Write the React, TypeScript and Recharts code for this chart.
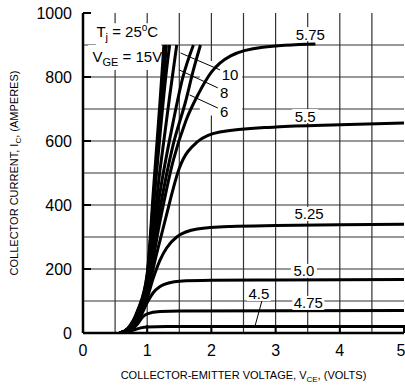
import React from 'react';
import {
  LineChart,
  Line,
  XAxis,
  YAxis,
  CartesianGrid,
  ReferenceArea,
  ReferenceDot,
  ReferenceLine,
} from 'recharts';

const FONT = '"Liberation Sans", Arial, Helvetica, sans-serif';

// [V_CE (volts), I_C (amperes)], per gate voltage
const vge20 = [[0.57, 0], [0.7, 15], [0.85, 70], [1.0, 185], [1.1, 455], [1.2, 725], [1.26, 900]];
const vge15 = [[0.57, 0], [0.7, 14], [0.85, 67], [1.0, 180], [1.1, 425], [1.2, 670], [1.3, 900]];
const vge12 = [[0.57, 0], [0.7, 13], [0.85, 63], [1.0, 174], [1.1, 400], [1.2, 620], [1.3, 820], [1.35, 900]];
const vge10 = [[0.57, 0], [0.7, 12], [0.85, 58], [1.0, 166], [1.2, 510], [1.35, 740], [1.46, 900]];
const vge8 = [[0.57, 0], [0.7, 11], [0.85, 54], [1.0, 155], [1.2, 440], [1.4, 655], [1.55, 795], [1.72, 900]];
const vge6 = [[0.57, 0], [0.7, 10], [0.85, 50], [1.0, 145], [1.2, 390], [1.4, 585], [1.6, 725], [1.72, 822], [1.83, 900]];
const vge575 = [[0.57, 0], [0.7, 9], [0.85, 45], [1.0, 135], [1.2, 350], [1.4, 535], [1.6, 662], [1.8, 748], [2.0, 815], [2.3, 866], [2.8, 893], [3.62, 903]];
const vge55 = [[0.57, 0], [0.7, 8], [0.85, 42], [1.0, 125], [1.15, 250], [1.28, 353], [1.5, 515], [1.78, 597], [2.13, 628], [3.0, 644], [4.0, 651], [5.0, 656]];
const vge525 = [[0.57, 0], [0.7, 7], [0.85, 38], [1.0, 110], [1.1, 175], [1.2, 228], [1.3, 265], [1.46, 300], [1.78, 325], [2.3, 333], [3.0, 336], [4.0, 338], [5.0, 340]];
const vge50 = [[0.57, 0], [0.7, 6], [0.85, 33], [1.0, 95], [1.09, 125], [1.2, 145], [1.35, 157], [1.5, 162], [2.0, 165], [3.0, 166], [5.0, 167]];
const vge475 = [[0.57, 0], [0.7, 5], [0.85, 28], [0.93, 50], [1.0, 60], [1.2, 67], [1.5, 69], [5.0, 70]];
const vge45 = [[0.57, 0], [0.7, 4], [0.8, 10], [0.9, 16], [1.0, 19], [1.3, 20], [5.0, 20]];

const curves = [vge20, vge15, vge12, vge10, vge8, vge6, vge575, vge55, vge525, vge50, vge475, vge45];

const xTicks = [0, 1, 2, 3, 4, 5];
const yTicks = [0, 200, 400, 600, 800, 1000];
const xGrid = [0.5, 1, 1.5, 2, 2.5, 3, 3.5, 4, 4.5];
const yGrid = [100, 200, 300, 400, 500, 600, 700, 800, 900];

// curve labels: text, V_CE, I_C of the label centre
const labelText = ['5.75', '5.5', '5.25', '5.0', '4.75', '4.5', '10', '8', '6'];
const labelV = [3.54, 3.46, 3.52, 3.44, 3.51, 2.74, 2.29, 2.2, 2.2];
const labelI = [934, 678, 372, 194, 94, 122, 809, 753, 691];
const labelW = [32, 26, 32, 26, 32, 24, 20, 12, 12];

// leader lines from label to curve
const leaders = [
  [[1.52, 875], [2.17, 819]],
  [[1.5, 822], [2.1, 766]],
  [[1.66, 744], [2.1, 703]],
  [[2.79, 103], [2.68, 22]],
];

const rows = (pts: number[][]) => pts.map(([v, i]) => ({ v, i }));

const CurveLabel = (props: any) => {
  const { cx, cy, text, w } = props;
  return (
    <g>
      <rect x={cx - w / 2} y={cy - 7} width={w} height={14} fill="#fff" />
      <text x={cx} y={cy + 5.5} textAnchor="middle" fontSize={15} fontFamily={FONT} fill="#000">
        {text}
      </text>
    </g>
  );
};

const TjLabel = (props: any) => (
  <text x={props.cx} y={props.cy} textAnchor="middle" fontSize={15} fontFamily={FONT} fill="#000">
    T<tspan dy={4} fontSize={11}>j</tspan>
    <tspan dy={-4}> = 25</tspan>
    <tspan dy={-6} fontSize={10}>o</tspan>
    <tspan dy={6}>C</tspan>
  </text>
);

const VgeLabel = (props: any) => (
  <text x={props.cx} y={props.cy} textAnchor="middle" fontSize={15} fontFamily={FONT} fill="#000">
    V<tspan dy={4} fontSize={11}>GE</tspan>
    <tspan dy={-4}> = 15V</tspan>
  </text>
);

const YTitle = (props: any) => {
  const { x, y, height } = props.viewBox;
  const cx = x + 14;
  const cy = y + height / 2;
  return (
    <text
      x={cx}
      y={cy + 4}
      transform={`rotate(-90, ${cx}, ${cy})`}
      textAnchor="middle"
      fontSize={11}
      fontFamily={FONT}
      fill="#000"
    >
      COLLECTOR CURRENT, I<tspan dy={3} fontSize={8}>C</tspan>
      <tspan dy={-3}>, (AMPERES)</tspan>
    </text>
  );
};

const XTitle = (props: any) => {
  const { x, y, width } = props.viewBox;
  return (
    <text x={x + width / 2} y={y + 46} textAnchor="middle" fontSize={11} fontFamily={FONT} fill="#000">
      COLLECTOR-EMITTER VOLTAGE, V<tspan dy={3} fontSize={8}>CE</tspan>
      <tspan dy={-3}>, (VOLTS)</tspan>
    </text>
  );
};

const axisStroke = { stroke: '#000', strokeWidth: 2.5 };
const tickStroke = { stroke: '#000', strokeWidth: 2 };
const tickFont = { fill: '#000', fontSize: 16, fontFamily: FONT };

export default function App() {
  return (
    <div style={{ position: 'absolute', left: 0, top: 0, background: '#fff' }}>
      <LineChart width={405} height={385} margin={{ top: 13, right: 1, left: 0, bottom: 0 }}>
        <CartesianGrid
          horizontalValues={yGrid}
          verticalValues={xGrid}
          stroke="#333"
          strokeWidth={1.2}
        />
        <XAxis
          dataKey="v"
          type="number"
          domain={[0, 5]}
          ticks={xTicks}
          allowDataOverflow
          height={52}
          tick={tickFont}
          tickSize={-8}
          tickMargin={20}
          tickLine={tickStroke}
          axisLine={axisStroke}
          label={<XTitle />}
        />
        <XAxis
          xAxisId="top"
          orientation="top"
          type="number"
          domain={[0, 5]}
          ticks={xTicks}
          height={0}
          tick={false}
          tickSize={-8}
          tickLine={tickStroke}
          axisLine={axisStroke}
        />
        <YAxis
          type="number"
          domain={[0, 1000]}
          ticks={yTicks}
          allowDataOverflow
          width={83}
          tick={tickFont}
          tickSize={-8}
          tickMargin={19}
          tickLine={tickStroke}
          axisLine={axisStroke}
          label={<YTitle />}
        />
        <YAxis
          yAxisId="right"
          orientation="right"
          type="number"
          domain={[0, 1000]}
          ticks={yTicks}
          width={0}
          tick={false}
          tickSize={-8}
          tickLine={tickStroke}
          axisLine={axisStroke}
        />
        <ReferenceArea x1={0.2} x2={1.22} y1={900} y2={968} fill="#fff" fillOpacity={1} stroke="none" />
        <ReferenceArea x1={0.08} x2={1.22} y1={822} y2={900} fill="#fff" fillOpacity={1} stroke="none" />
        <ReferenceArea x1={1.82} x2={2.48} y1={680} y2={850} fill="#fff" fillOpacity={1} stroke="none" />
        {curves.map((c, k) => (
          <Line
            key={k}
            data={rows(c)}
            dataKey="i"
            type="monotone"
            stroke="#000"
            strokeWidth={3}
            dot={false}
            activeDot={false}
            isAnimationActive={false}
          />
        ))}
        {leaders.map((s, k) => (
          <ReferenceLine
            key={`l${k}`}
            segment={[{ x: s[0][0], y: s[0][1] }, { x: s[1][0], y: s[1][1] }]}
            stroke="#000"
            strokeWidth={1}
            ifOverflow="visible"
          />
        ))}
        {labelText.map((t, k) => (
          <ReferenceDot
            key={`t${k}`}
            x={labelV[k]}
            y={labelI[k]}
            r={0}
            ifOverflow="visible"
            shape={(p: any) => <CurveLabel {...p} text={t} w={labelW[k]} />}
          />
        ))}
        <ReferenceDot x={0.69} y={925} r={0} ifOverflow="visible" shape={(p: any) => <TjLabel {...p} />} />
        <ReferenceDot x={0.69} y={847} r={0} ifOverflow="visible" shape={(p: any) => <VgeLabel {...p} />} />
      </LineChart>
    </div>
  );
}
